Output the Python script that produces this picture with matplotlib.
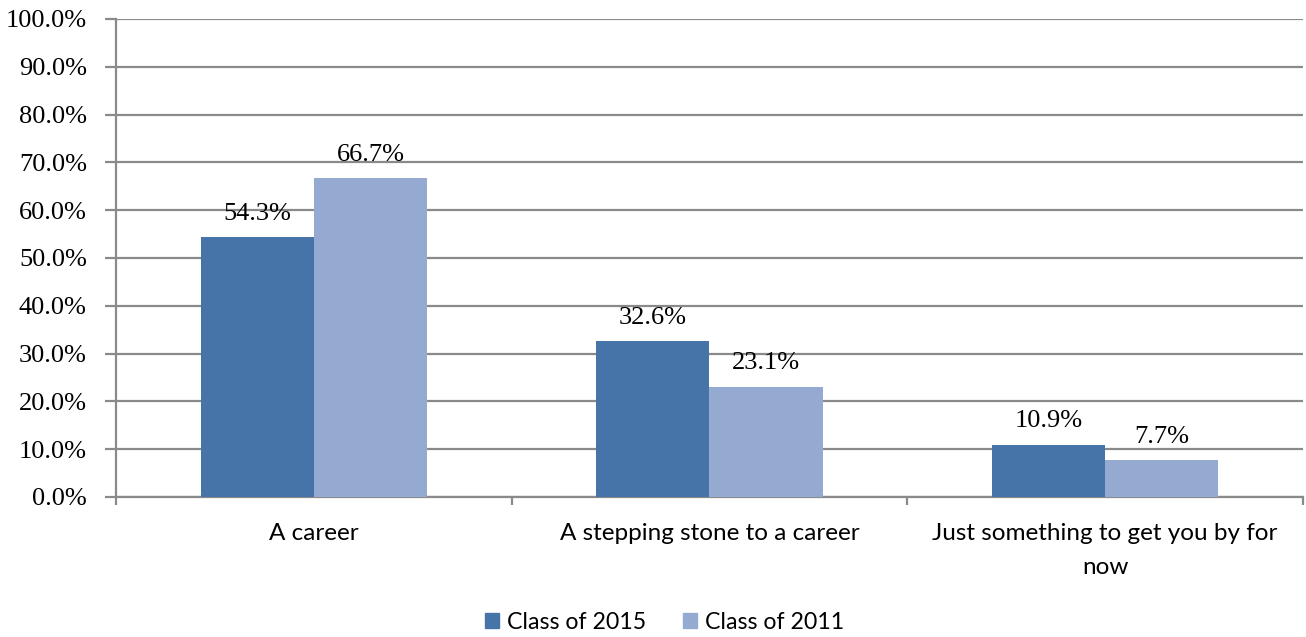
import matplotlib as mpl
mpl.use('Agg')
import numpy as np
import matplotlib.pyplot as plt
from matplotlib.ticker import FuncFormatter
from matplotlib.patches import Patch

categories = ['A career', 'A stepping stone to a career', 'Just something to get you by for\nnow']
series_names = ['Class of 2015', 'Class of 2011']
class_2015 = [54.3, 32.6, 10.9]
class_2011 = [66.7, 23.1, 7.7]

c1 = '#4674a9'
c2 = '#95aad1'
grey = '#8a8a8a'
serif = ['Liberation Serif', 'DejaVu Serif']
sans = ['Lato', 'DejaVu Sans']

fig = plt.figure(figsize=(13.06, 6.37), dpi=100)
ax = fig.add_axes([0.0888, 0.2198, 0.9089, 0.7504])

x = np.arange(len(categories))
w = 0.286
b1 = ax.bar(x - w / 2, class_2015, w, color=c1, zorder=3)
b2 = ax.bar(x + w / 2, class_2011, w, color=c2, zorder=3)

for bars, vals in ((b1, class_2015), (b2, class_2011)):
    for r, v in zip(bars, vals):
        ax.annotate('%.1f%%' % v, (r.get_x() + r.get_width() / 2, v),
                    xytext=(0, 9), textcoords='offset points',
                    ha='center', va='bottom', fontsize=19, family=serif)

ax.set_xlim(-0.5, 2.5)
ax.set_ylim(0, 100)
ax.set_yticks(np.arange(0, 101, 10))
ax.yaxis.set_major_formatter(FuncFormatter(lambda v, p: '%.1f%%' % v))
for lab in ax.get_yticklabels():
    lab.set_family(serif)
    lab.set_fontsize(19)
ax.grid(axis='y', color=grey, linewidth=1.6, zorder=0)

ax.set_xticks([-0.5, 0.5, 1.5, 2.5])
ax.set_xticklabels([])
ax.set_xticks(x, minor=True)
ax.set_xticklabels(categories, minor=True, fontsize=17.5, family=sans, linespacing=1.75)
ax.tick_params(axis='x', which='minor', length=0, pad=19)
ax.tick_params(axis='x', which='major', length=6, color=grey, width=1.6)
ax.tick_params(axis='y', length=8, color=grey, width=1.6, pad=13)

for s in ['top', 'right']:
    ax.spines[s].set_visible(False)
for s in ['left', 'bottom']:
    ax.spines[s].set_color(grey)
    ax.spines[s].set_linewidth(1.6)

handles = [Patch(color=c1), Patch(color=c2)]
fig.legend(handles, series_names, loc='center', bbox_to_anchor=(0.509, 0.023),
           ncol=2, frameon=False, handlelength=0.6, handleheight=0.6,
           handletextpad=0.35, columnspacing=1.6, borderpad=0,
           prop={'family': sans, 'size': 16.7})

fig.savefig('out.png', dpi=100)
